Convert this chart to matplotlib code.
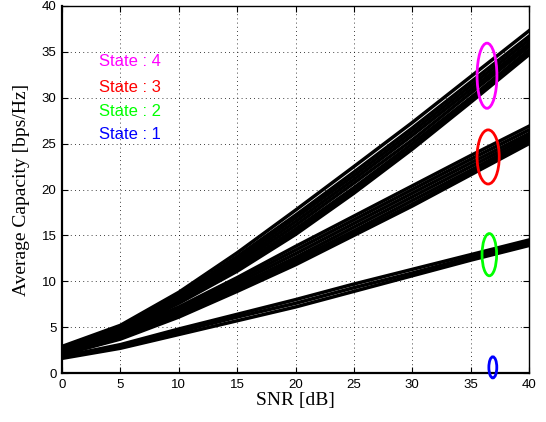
import matplotlib
matplotlib.use('Agg')
import matplotlib.pyplot as plt
from matplotlib import patches

snr = [0, 5, 10, 15, 20, 25, 30, 35, 40]

# state 4 curves (top bundle)
state4 = [
    [2.9, 5.2, 8.8, 13.1, 17.75, 22.5, 27.3, 32.3, 37.3],
    [2.8, 5.0, 8.5, 12.7, 17.2, 21.9, 26.7, 31.7, 36.7],
    [2.7, 4.9, 8.3, 12.4, 16.9, 21.5, 26.3, 31.3, 36.3],
    [2.6, 4.8, 8.1, 12.1, 16.5, 21.1, 25.9, 30.9, 35.9],
    [2.5, 4.7, 8.0, 11.8, 16.1, 20.7, 25.4, 30.5, 35.6],
    [2.4, 4.6, 7.8, 11.5, 15.7, 20.2, 25.0, 30.0, 35.2],
    [2.3, 4.5, 7.7, 11.3, 15.4, 19.9, 24.6, 29.7, 34.9],
    [2.3, 4.5, 7.6, 11.1, 15.1, 19.6, 24.4, 29.5, 34.7],
]

# state 3 curves (middle bundle)
state3 = [
    [2.5, 4.5, 7.2, 10.4, 13.8, 17.1, 20.4, 23.7, 26.9],
    [2.4, 4.3, 7.0, 10.1, 13.4, 16.7, 20.0, 23.3, 26.5],
    [2.3, 4.2, 6.8, 9.8, 13.0, 16.3, 19.6, 22.9, 26.1],
    [2.2, 4.1, 6.6, 9.5, 12.6, 15.9, 19.2, 22.5, 25.8],
    [2.1, 3.9, 6.4, 9.3, 12.3, 15.5, 18.8, 22.1, 25.5],
    [2.0, 3.8, 6.2, 9.0, 12.0, 15.2, 18.4, 21.8, 25.2],
    [2.0, 3.7, 6.1, 8.9, 11.8, 15.0, 18.2, 21.6, 25.0],
]

# state 2 curves (bottom bundle)
state2 = [
    [1.8, 3.1, 4.8, 6.4, 8.0, 9.7, 11.3, 12.9, 14.5],
    [1.7, 2.9, 4.5, 6.1, 7.6, 9.3, 10.9, 12.6, 14.2],
    [1.6, 2.7, 4.2, 5.7, 7.2, 8.9, 10.6, 12.3, 13.9],
]

state_labels = ['State : 4', 'State : 3', 'State : 2', 'State : 1']
state_colors = ['#ff00ff', '#ff0000', '#00ff00', '#0000ff']
label_y = [34.0, 31.1, 28.55, 26.05]

# ellipse markers: (x center, y center, width, height)
ellipses = [
    (36.4, 32.4, 1.7, 7.1),
    (36.5, 23.55, 1.9, 5.9),
    (36.6, 12.9, 1.25, 4.6),
    (36.9, 0.62, 0.68, 2.3),
]

fig = plt.figure(figsize=(5.46, 4.22), dpi=100)
ax = fig.add_axes([0.1136, 0.116, 0.8553, 0.8698])

for curves in (state4, state3, state2):
    for c in curves:
        ax.plot(snr, c, color='k', lw=2.5, solid_joinstyle='miter')

for (xc, yc, w, h), col in zip(ellipses, state_colors):
    ax.add_patch(patches.Ellipse((xc, yc), w, h, fill=False, edgecolor=col,
                                 lw=2.0, clip_on=False, zorder=5))

for lab, col, yy in zip(state_labels, state_colors, label_y):
    ax.text(3.2, yy, lab, color=col, fontsize=12, family='Liberation Sans',
            va='center', ha='left')

ax.set_xlim(0, 40)
ax.set_ylim(0, 40)
ax.set_xticks(range(0, 41, 5))
ax.set_yticks(range(0, 41, 5))
ax.grid(True, color='k', linestyle=(0, (1, 4)), lw=0.6)
ax.tick_params(direction='in', top=True, right=True, length=4, width=0.8,
               labelsize=9.5, pad=4)
for t in ax.get_xticklabels() + ax.get_yticklabels():
    t.set_family('Liberation Sans')
for s in ('left', 'bottom'):
    ax.spines[s].set_linewidth(1.6)
for s in ('top', 'right'):
    ax.spines[s].set_linewidth(1.0)

ax.set_xlabel('SNR [dB]', family='Liberation Serif', fontsize=14, labelpad=1)
ax.set_ylabel('Average Capacity [bps/Hz]', family='Liberation Serif',
              fontsize=14, labelpad=8)

fig.savefig('out.png', dpi=100)
